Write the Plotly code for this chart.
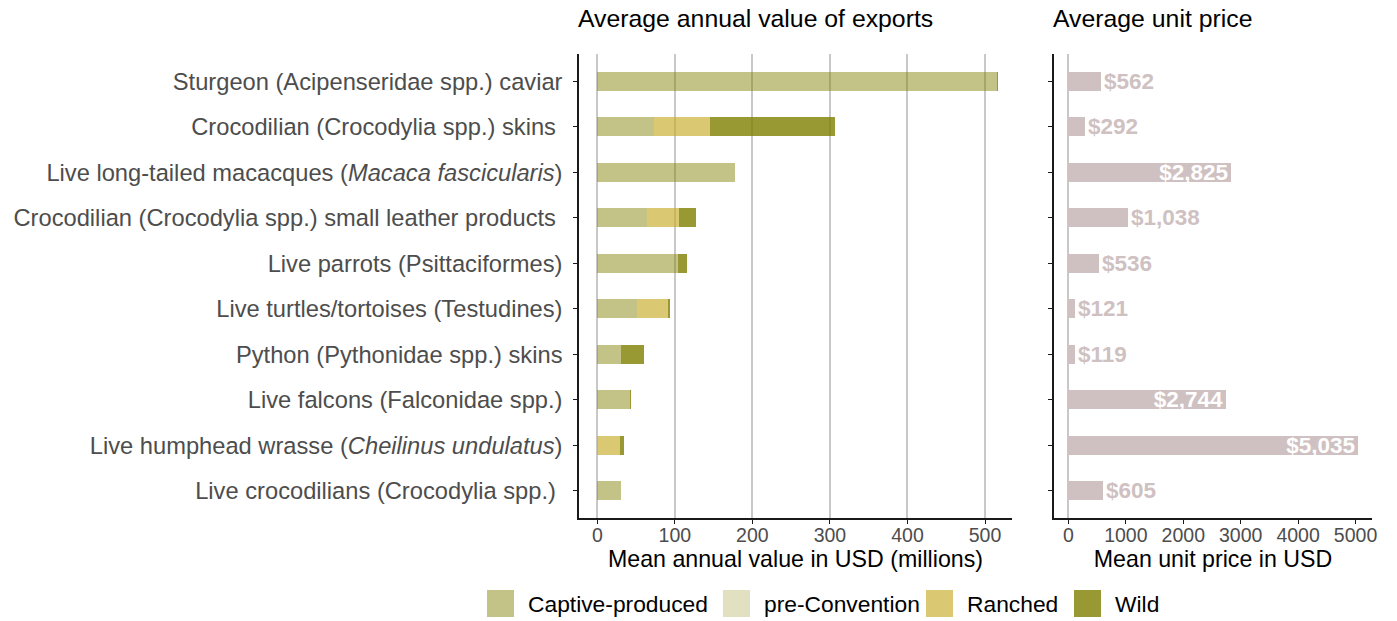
import plotly.graph_objects as go

# --- data -----------------------------------------------------------------
categories = [
    "Sturgeon (Acipenseridae spp.) caviar",
    "Crocodilian (Crocodylia spp.) skins\u00a0",
    "Live long-tailed macacques (<i>Macaca fascicularis</i>)",
    "Crocodilian (Crocodylia spp.) small leather products\u00a0",
    "Live parrots (Psittaciformes)",
    "Live turtles/tortoises (Testudines)",
    "Python (Pythonidae spp.) skins",
    "Live falcons (Falconidae spp.)",
    "Live humphead wrasse (<i>Cheilinus undulatus</i>)",
    "Live crocodilians (Crocodylia spp.)\u00a0",
]

# mean annual export value, USD millions, by source
captive = [516, 73.5, 177, 64.5, 104.5, 51.5, 30.5, 42.5, 0, 31]
pre_convention = [0, 0, 0, 0, 0, 0, 0, 0, 0, 0]
ranched = [0, 72, 0, 40.5, 0, 40, 0, 0, 29, 0]
wild = [1, 161, 1, 22, 11, 2.5, 29.5, 0.5, 5.5, 0]

# mean unit price, USD
unit_price = [562, 292, 2825, 1038, 536, 121, 119, 2744, 5035, 605]

value_ticks = [0, 100, 200, 300, 400, 500]
price_ticks = [0, 1000, 2000, 3000, 4000, 5000]

# --- styling --------------------------------------------------------------
FONT = "Liberation Sans, Arial, sans-serif"
OFF = 8  # the page body adds an 8px margin, so the figure is drawn 8px in
W, H = 1397 - OFF, 621 - OFF
ML, MR, MT, MB = 579 - OFF, 25, 54 - OFF, 103
PW, PH = W - ML - MR, H - MT - MB

sources = [
    ("Captive-produced", captive, "rgba(128,128,0,0.47)"),
    ("pre-Convention", pre_convention, "rgba(128,128,0,0.24)"),
    ("Ranched", ranched, "rgba(200,170,40,0.65)"),
    ("Wild", wild, "rgba(128,128,0,0.8)"),
]
price_color = "#cfc1c1"


def px_x(x):
    """page pixel -> paper fraction"""
    return (x - OFF - ML) / PW


def px_y(y):
    return (H - MB - (y - OFF)) / PH


fig = go.Figure()

for name, vals, color in sources:
    fig.add_trace(
        go.Bar(
            y=categories,
            x=vals,
            name=name,
            orientation="h",
            width=0.42,
            marker={"color": color, "line": {"width": 0}},
            showlegend=False,
            xaxis="x",
            yaxis="y",
        )
    )

label_font = {"family": FONT, "size": 22.5, "weight": "bold"}
fig.add_trace(
    go.Bar(
        y=categories,
        x=unit_price,
        orientation="h",
        width=0.42,
        marker={"color": price_color, "line": {"width": 0}},
        text=[f"${v:,}" for v in unit_price],
        textposition=["inside" if v > 2000 else "outside" for v in unit_price],
        insidetextanchor="end",
        textfont=label_font,
        insidetextfont={**label_font, "color": "white"},
        outsidetextfont={**label_font, "color": price_color},
        constraintext="none",
        cliponaxis=False,
        showlegend=False,
        xaxis="x2",
        yaxis="y2",
    )
)

axis_line = {"showline": True, "linecolor": "#1a1a1a", "linewidth": 1.5,
             "ticks": "outside", "ticklen": 4, "tickcolor": "#1a1a1a", "tickwidth": 1.2,
             "automargin": False}
n = len(categories)

fig.update_layout(
    width=W,
    height=H,
    barmode="stack",
    bargap=0,
    plot_bgcolor="white",
    paper_bgcolor="white",
    font={"family": FONT, "color": "black"},
    margin={"l": ML, "r": MR, "t": MT, "b": MB, "autoexpand": False},
    xaxis={
        **axis_line,
        "domain": [0, 433 / PW],
        "anchor": "y",
        "range": [-23.6, 534.8],
        "tickvals": value_ticks,
        "showgrid": True,
        "gridcolor": "#c8c8c8",
        "gridwidth": 1.6,
        "zeroline": False,
        "ticklabelstandoff": -5,
        "tickfont": {"size": 19.5, "color": "#4d4d4d"},
        "title": {"text": "Mean annual value in USD (millions)",
                  "font": {"size": 23.2, "color": "black"}, "standoff": 3},
    },
    xaxis2={
        **axis_line,
        "domain": [475 / PW, 1],
        "anchor": "y2",
        "range": [-251.75, 5286.75],
        "tickvals": price_ticks,
        "showgrid": False,
        "zeroline": True,
        "zerolinecolor": "#c8c8c8",
        "zerolinewidth": 1.6,
        "ticklabelstandoff": -5,
        "tickfont": {"size": 19.5, "color": "#4d4d4d"},
        "title": {"text": "Mean unit price in USD",
                  "font": {"size": 23.2, "color": "black"}, "standoff": 3},
    },
    yaxis={
        **axis_line,
        "anchor": "x",
        "type": "category",
        "categoryorder": "array",
        "categoryarray": categories,
        "range": [n - 0.4, -0.6],
        "ticklabelstandoff": 6,
        "tickfont": {"size": 23.7, "color": "#4d4d4d"},
        "showgrid": False,
    },
    yaxis2={
        **axis_line,
        "anchor": "x2",
        "matches": "y",
        "type": "category",
        "showticklabels": False,
        "showgrid": False,
    },
)

# panel titles
for xref, text in [("x domain", "Average annual value of exports"),
                   ("x2 domain", "Average unit price")]:
    fig.add_annotation(
        xref=xref, yref="paper", x=0, y=px_y(19), xanchor="left", yanchor="middle",
        xshift=-3, text=text, showarrow=False, font={"size": 24.8, "color": "black"},
    )

# legend drawn by hand (large square keys)
legend_left = [487, 723, 926, 1074]
for (name, _, color), left in zip(sources, legend_left):
    fig.add_shape(
        type="rect", xref="paper", yref="paper",
        x0=px_x(left), x1=px_x(left + 27), y0=px_y(617), y1=px_y(590),
        fillcolor=color, line={"width": 0},
    )
    fig.add_annotation(
        xref="paper", yref="paper", x=px_x(left + 39), y=px_y(604),
        xanchor="left", yanchor="middle", text=name, showarrow=False,
        font={"size": 22.8, "color": "black"},
    )

fig.write_html("out.html")
